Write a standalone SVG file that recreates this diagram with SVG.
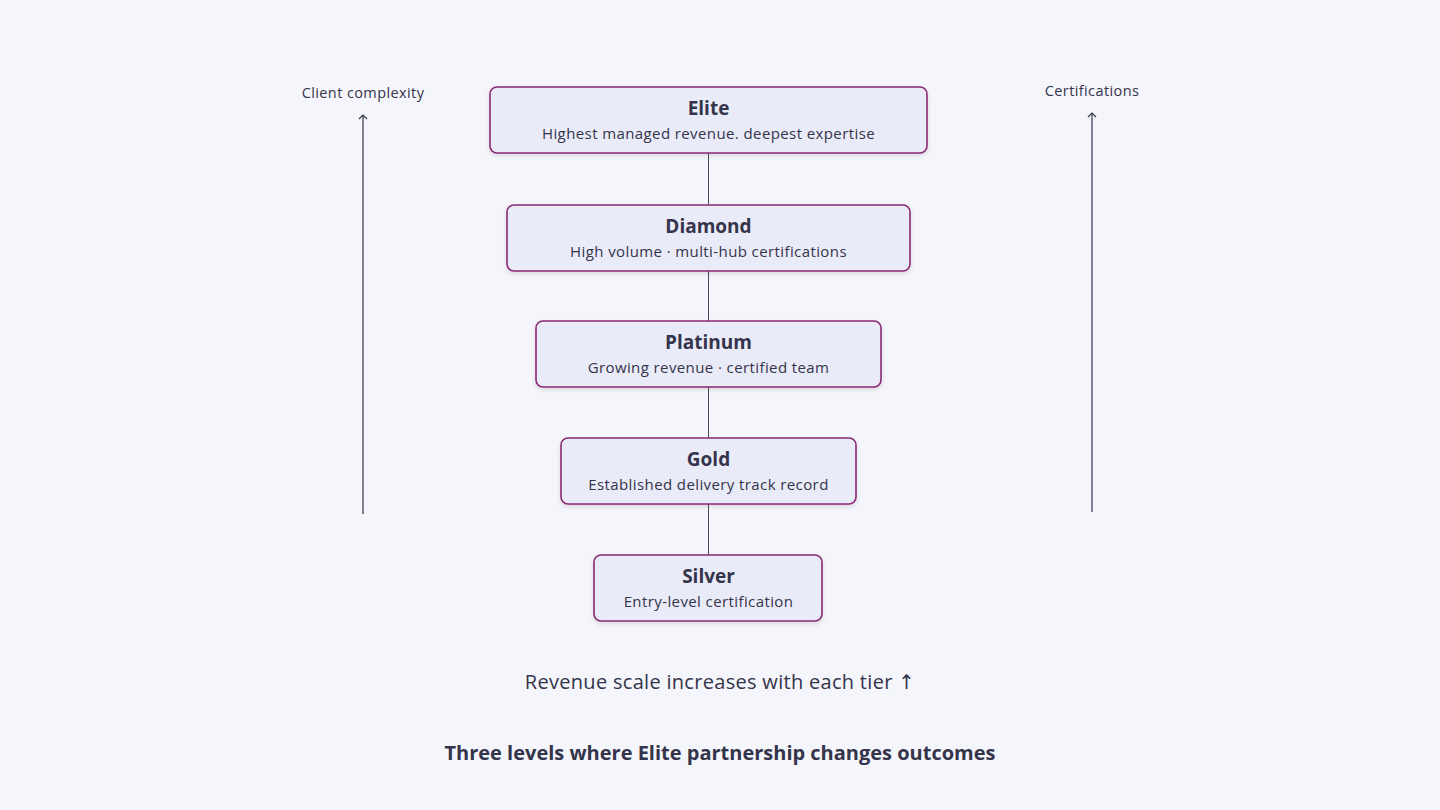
<svg xmlns="http://www.w3.org/2000/svg" width="1440" height="810" viewBox="0 0 1440 810">
<defs>
<style>
text{font-family:"Open Sans","Noto Sans",sans-serif;fill:#34344a;text-anchor:middle}
.box{fill:#eaebf9;stroke:#8a2a72;stroke-width:1.6}
.t{font-size:19px;font-weight:700}
.s{font-size:15px;letter-spacing:0.4px}
.ln{stroke:#4a4a5a;stroke-width:1;fill:none}
</style>
<marker id="ah" viewBox="0 0 10 10" refX="9" refY="5" markerWidth="10" markerHeight="10" orient="auto" markerUnits="userSpaceOnUse">
<path d="M5 1 L9 5 L5 9" fill="none" stroke="#34344a" stroke-width="1.2"/>
</marker>
<filter id="sh" x="-10%" y="-20%" width="120%" height="150%"><feDropShadow dx="0" dy="2" stdDeviation="2" flood-color="#000" flood-opacity="0.12"/></filter>
</defs>
<rect width="1440" height="810" fill="#f5f5fc"/>
<g id="connectors">
<line class="ln" x1="708.5" y1="153" x2="708.5" y2="205"/>
<line class="ln" x1="708.5" y1="271" x2="708.5" y2="321"/>
<line class="ln" x1="708.5" y1="387" x2="708.5" y2="438"/>
<line class="ln" x1="708.5" y1="504" x2="708.5" y2="555"/>
<line x1="363" y1="514" x2="363" y2="115" stroke="#34344a" stroke-width="1.2" marker-end="url(#ah)"/>
<line x1="1092" y1="512" x2="1092" y2="113" stroke="#34344a" stroke-width="1.2" marker-end="url(#ah)"/>
</g>
<g id="elite"><rect class="box" filter="url(#sh)" x="490" y="87" width="437" height="66" rx="7"/><text class="t" x="708.5" y="115">Elite</text><text class="s" x="708.5" y="139">Highest managed revenue. deepest expertise</text></g>
<g id="diamond"><rect class="box" filter="url(#sh)" x="507" y="205" width="403" height="66" rx="7"/><text class="t" x="708.5" y="233">Diamond</text><text class="s" x="708.5" y="257">High volume · multi-hub certifications</text></g>
<g id="platinum"><rect class="box" filter="url(#sh)" x="536" y="321" width="345" height="66" rx="7"/><text class="t" x="708.5" y="349">Platinum</text><text class="s" x="708.5" y="373">Growing revenue · certified team</text></g>
<g id="gold"><rect class="box" filter="url(#sh)" x="561" y="438" width="295" height="66" rx="7"/><text class="t" x="708.5" y="466">Gold</text><text class="s" x="708.5" y="490">Established delivery track record</text></g>
<g id="silver"><rect class="box" filter="url(#sh)" x="594" y="555" width="228" height="66" rx="7"/><text class="t" x="708.5" y="583">Silver</text><text class="s" x="708.5" y="607">Entry-level certification</text></g>
<g id="labels">
<text class="s" x="363" y="98" style="font-size:14.5px">Client complexity</text>
<text class="s" x="1092" y="96" style="font-size:14.5px">Certifications</text>
<text x="720" y="689" style="font-size:20px;letter-spacing:0.3px">Revenue scale increases with each tier <tspan style="font-family:'DejaVu Sans',sans-serif;fill:#34344a">↑</tspan></text>
<text x="720" y="760" style="font-size:20px;font-weight:700">Three levels where Elite partnership changes outcomes</text>
</g>
</svg>
